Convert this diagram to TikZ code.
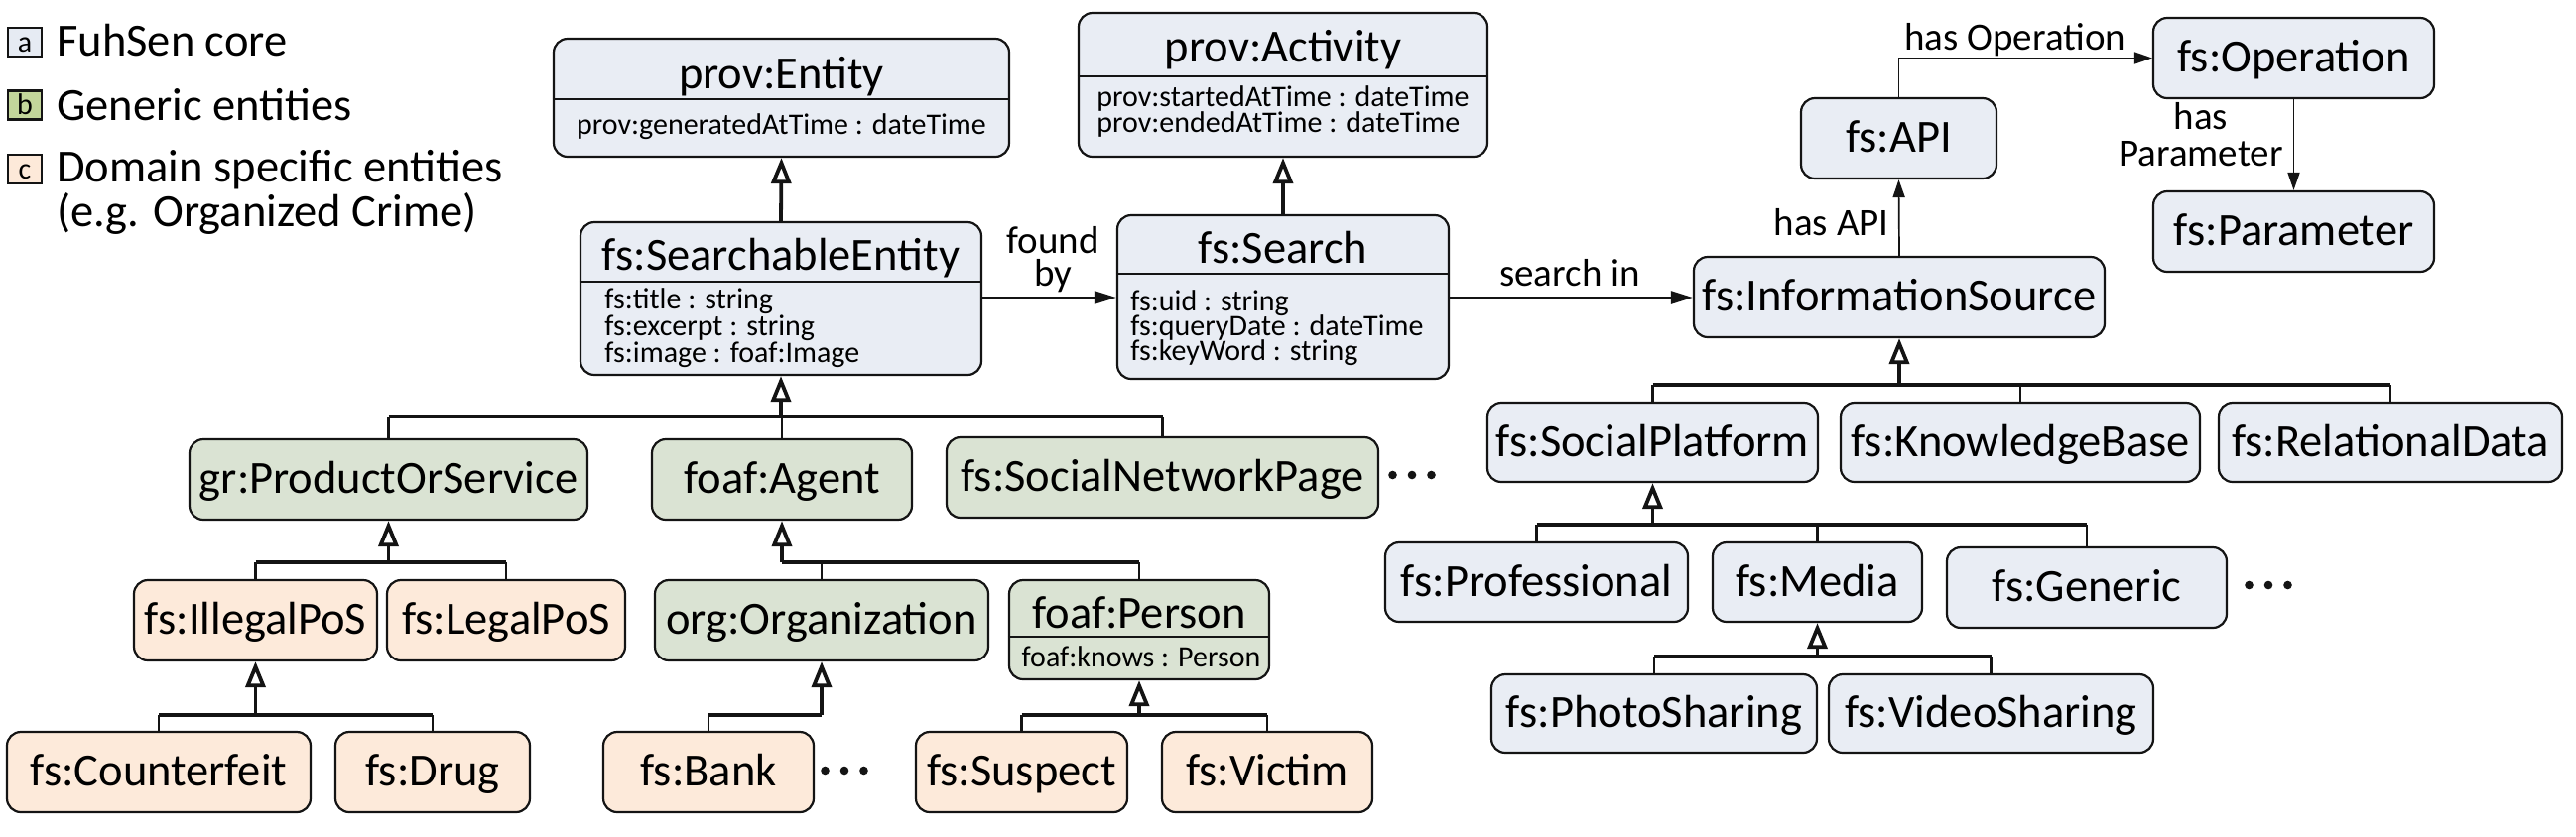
\documentclass[tikz,border=0pt]{standalone}
\usepackage{fontspec}
\setmainfont{Carlito}
\usetikzlibrary{arrows.meta}
\definecolor{coreC}{HTML}{E9EDF4}
\definecolor{genC}{HTML}{DAE3D3}
\definecolor{domC}{HTML}{FDEADA}
\definecolor{legA}{HTML}{E6EBF3}
\definecolor{legB}{HTML}{C3D69B}
\definecolor{legC}{HTML}{FDE9D9}
\definecolor{lineC}{HTML}{141414}
\newcommand\ubox[7]{\node[#1, minimum width={(#5-#3)*0.5pt}, minimum height={(#6-#4)*0.5pt}] (#2) at ({(#3+#5)/2},{(#4+#6)/2}) {#7};}
\tikzset{
  mfont/.style={font=\fontsize{23.25}{28}\selectfont},
  afont/.style={font=\fontsize{15}{18}\selectfont},
  lfont/.style={font=\fontsize{19.5}{22}\selectfont},
  box/.style={draw=lineC, line width=1.1pt, rounded corners=7pt, inner sep=0pt, mfont, text height=17.4pt, text depth=3pt},
  core/.style={box, fill=coreC},
  gen/.style={box, fill=genC},
  dom/.style={box, fill=domC},
  divider/.style={draw=lineC, line width=1.1pt},
  ttl/.style={anchor=base, inner sep=0pt, mfont},
  attrl/.style={anchor=base west, inner sep=0pt, afont},
  attrc/.style={anchor=base, inner sep=0pt, afont},
  lbl/.style={inner sep=0pt, lfont},
  legbox/.style={draw=lineC, line width=1.1pt, minimum width=17pt, minimum height=14.5pt, inner sep=0pt, font=\fontsize{15}{18}\selectfont, text height=11pt, text depth=1.5pt},
  legtxt/.style={anchor=base west, inner sep=0pt, mfont},
  genarrow/.style={draw=lineC, line width=1.9pt, -{Triangle[open, length=13pt, width=10pt]}},
  bar/.style={draw=lineC, line width=1.7pt},
  drop/.style={draw=lineC, line width=1.4pt},
  assocT/.style={draw=lineC, line width=1.25pt, -{Triangle[length=11pt, width=6.5pt]}},
  assoc/.style={draw=lineC, line width=0.85pt, -{Triangle[length=9pt, width=6pt]}},
  ellip/.style={inner sep=0pt, minimum width=25pt, minimum height=5pt,
    path picture={\foreach \dx in {-9.75pt,0pt,9.75pt} \fill[lineC] ([xshift=\dx]path picture bounding box.center) circle (2.15pt);}}
}
\begin{document}
\begin{tikzpicture}[x=0.5pt,y=-0.5pt]
\useasboundingbox (0,0) rectangle (2596,843);

% ---------------- legend
\node[legbox, fill=legA] (la) at (25,42.5) {a};
\node[legbox, fill=legB] (lb) at (25,106) {b};
\node[legbox, fill=legC] (lc) at (25,170.5) {c};
\node[legtxt] (lta) at (57,56) {FuhSen core};
\node[legtxt] (ltb) at (57,121) {Generic entities};
\node[legtxt] (ltc) at (57,183) {Domain specific entities};
\node[legtxt] (ltd) at (57,228) {(e.g. Organized Crime)};

% ---------------- class boxes with attributes
\ubox{core}{ent}{558}{39}{1017}{158}{}
\draw[divider] (ent.west |- 0,100) -- (ent.east |- 0,100);
\node[ttl] (entT) at (787.5,89) {prov:Entity};
\node[attrc] (entA) at (787.5,135) {prov:generatedAtTime : dateTime};

\ubox{core}{act}{1087}{13}{1499}{158}{}
\draw[divider] (act.west |- 0,77) -- (act.east |- 0,77);
\node[ttl] (actT) at (1293,62) {prov:Activity};
\node[attrl] (actA) at (1105,107) {prov:startedAtTime : dateTime};
\node[attrl] (actB) at (1105,133) {prov:endedAtTime : dateTime};

\ubox{core}{se}{585}{224}{989}{378}{}
\draw[divider] (se.west |- 0,284) -- (se.east |- 0,284);
\node[ttl] (seT) at (787,272) {fs:SearchableEntity};
\node[attrl] (seA) at (609,311) {fs:title : string};
\node[attrl] (seB) at (609,338) {fs:excerpt : string};
\node[attrl] (seC) at (609,365) {fs:image : foaf:Image};

\ubox{core}{srch}{1126}{217}{1460}{382}{}
\draw[divider] (srch.west |- 0,276) -- (srch.east |- 0,276);
\node[ttl] (srchT) at (1293,265) {fs:Search};
\node[attrl] (srchA) at (1139,313) {fs:uid : string};
\node[attrl] (srchB) at (1139,338) {fs:queryDate : dateTime};
\node[attrl] (srchC) at (1139,363) {fs:keyWord : string};

\ubox{gen}{pers}{1017}{585}{1279}{685}{}
\draw[divider] (pers.west |- 0,642) -- (pers.east |- 0,642);
\node[ttl] (persT) at (1148,633) {foaf:Person};
\node[attrc] (persA) at (1150,672) {foaf:knows : Person};

% ---------------- simple boxes (core)
\ubox{core}{api}{1815}{99}{2012}{180}{fs:API}
\ubox{core}{op}{2170}{18}{2453}{99}{fs:Operation}
\ubox{core}{par}{2170}{193}{2453}{274}{fs:Parameter}
\ubox{core}{is}{1707}{259}{2121}{340}{fs:InformationSource}
\ubox{core}{sp}{1499}{406}{1832}{486}{fs:SocialPlatform}
\ubox{core}{kb}{1855}{406}{2217}{486}{fs:KnowledgeBase}
\ubox{core}{rd}{2236}{406}{2582}{486}{fs:RelationalData}
\ubox{core}{prof}{1396}{547}{1701}{627}{fs:Professional}
\ubox{core}{med}{1726}{547}{1937}{627}{fs:Media}
\ubox{core}{gnr}{1962}{552}{2244}{633}{fs:Generic}
\ubox{core}{photo}{1503}{680}{1831}{759}{fs:PhotoSharing}
\ubox{core}{video}{1843}{680}{2170}{759}{fs:VideoSharing}

% ---------------- generic
\ubox{gen}{pos}{191}{443}{592}{524}{gr:ProductOrService}
\ubox{gen}{agt}{657}{443}{919}{524}{foaf:Agent}
\ubox{gen}{snp}{954}{441}{1389}{522}{fs:SocialNetworkPage}
\ubox{gen}{org}{660}{585}{996}{666}{org:Organization}

% ---------------- domain
\ubox{dom}{ill}{135}{585}{380}{666}{fs:IllegalPoS}
\ubox{dom}{leg}{390}{585}{630}{666}{fs:LegalPoS}
\ubox{dom}{cf}{7}{738}{313}{819}{fs:Counterfeit}
\ubox{dom}{drug}{338}{738}{534}{819}{fs:Drug}
\ubox{dom}{bank}{608}{738}{820}{819}{fs:Bank}
\ubox{dom}{susp}{923}{738}{1136}{819}{fs:Suspect}
\ubox{dom}{vict}{1171}{738}{1383}{819}{fs:Victim}

% ---------------- ellipses
\node[ellip] (dotsA) at (1423,479) {};
\node[ellip] (dotsB) at (851,777) {};
\node[ellip] (dotsC) at (2286,590) {};

% ---------------- generalisations
\draw[genarrow] (se.north) -- (ent.south);
\draw[genarrow] (srch.north) -- (act.south);

% SearchableEntity tree
\coordinate (jse) at (se.south |- 0,420);
\draw[bar] (pos.north |- jse) -- (snp.north |- jse);
\draw[drop] (pos.north) -- (pos.north |- jse);
\draw[drop] (agt.north) -- (agt.north |- jse);
\draw[drop] (snp.north) -- (snp.north |- jse);
\draw[genarrow] (jse) -- (se.south);

% ProductOrService tree
\coordinate (jpos) at (pos.south |- 0,567);
\draw[bar] (ill.north |- jpos) -- (leg.north |- jpos);
\draw[drop] (ill.north) -- (ill.north |- jpos);
\draw[drop] (leg.north) -- (leg.north |- jpos);
\draw[genarrow] (jpos) -- (pos.south);

% Agent tree
\coordinate (jagt) at (agt.south |- 0,567);
\draw[bar] (jagt) -- (pers.north |- jagt);
\draw[drop] (org.north) -- (org.north |- jagt);
\draw[drop] (pers.north) -- (pers.north |- jagt);
\draw[genarrow] (jagt) -- (agt.south);

% IllegalPoS tree
\coordinate (jill) at (ill.south |- 0,721);
\draw[bar] (cf.north |- jill) -- (drug.north |- jill);
\draw[drop] (cf.north) -- (cf.north |- jill);
\draw[drop] (drug.north) -- (drug.north |- jill);
\draw[genarrow] (jill) -- (ill.south);

% Organization tree
\coordinate (jorg) at (org.south |- 0,721);
\draw[bar] (bank.north |- jorg) -- (jorg);
\draw[drop] (bank.north) -- (bank.north |- jorg);
\draw[genarrow] (jorg) -- (org.south);

% Person tree
\coordinate (jpers) at (pers.south |- 0,721);
\draw[bar] (susp.north |- jpers) -- (vict.north |- jpers);
\draw[drop] (susp.north) -- (susp.north |- jpers);
\draw[drop] (vict.north) -- (vict.north |- jpers);
\draw[genarrow] (jpers) -- (pers.south);

% InformationSource tree
\coordinate (jis) at (is.south |- 0,388);
\draw[bar] (sp.north |- jis) -- (rd.north |- jis);
\draw[drop] (sp.north) -- (sp.north |- jis);
\draw[drop] (kb.north) -- (kb.north |- jis);
\draw[drop] (rd.north) -- (rd.north |- jis);
\draw[genarrow] (jis) -- (is.south);

% SocialPlatform tree
\coordinate (jsp) at (sp.south |- 0,529);
\draw[bar] (prof.north |- jsp) -- (gnr.north |- jsp);
\draw[drop] (prof.north) -- (prof.north |- jsp);
\draw[drop] (med.north) -- (med.north |- jsp);
\draw[drop] (gnr.north) -- (gnr.north |- jsp);
\draw[genarrow] (jsp) -- (sp.south);

% Media tree
\coordinate (jmed) at (med.south |- 0,662);
\draw[bar] (photo.north |- jmed) -- (video.north |- jmed);
\draw[drop] (photo.north) -- (photo.north |- jmed);
\draw[drop] (video.north) -- (video.north |- jmed);
\draw[genarrow] (jmed) -- (med.south);

% ---------------- associations
\draw[assocT] (se.east |- 0,300) -- (srch.west |- 0,300);
\draw[assocT] (srch.east |- 0,300) -- (is.west |- 0,300);
\draw[assoc] (is.north) -- (api.south);
\draw[assoc] (api.north) |- (op.west);
\draw[assoc] (op.south) -- (par.north);

% ---------------- association labels
\node[lbl, align=center, font=\fontsize{19.5}{16.5}\selectfont, anchor=south] (lfound) at (1061,295) {found\\by};
\node[lbl, anchor=base] (lsearch) at (1582,288) {search in};
\node[lbl, anchor=base east] (lapi) at (1904,237) {has API};
\node[lbl, anchor=base west] (lop) at (1919,50) {has Operation};
\node[lbl, align=center, font=\fontsize{19.5}{18.5}\selectfont, anchor=south] (lpar) at (2218,168) {has\\Parameter};
\end{tikzpicture}
\end{document}
